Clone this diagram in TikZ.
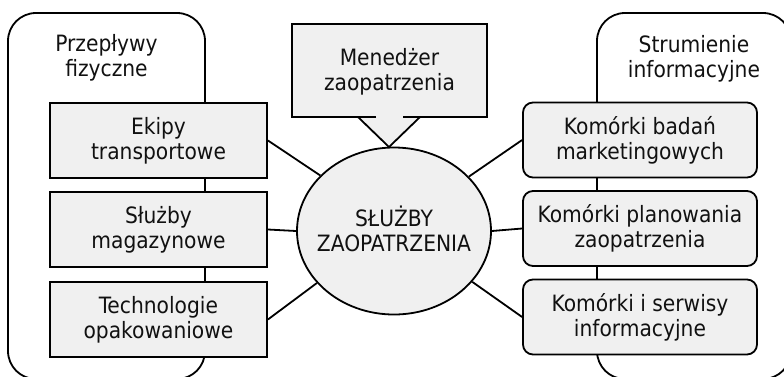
\documentclass[tikz,border=0pt]{standalone}
\usepackage{fontspec}
\setmainfont{DejaVu Sans Condensed}
\usetikzlibrary{shapes.geometric}
\definecolor{boxfill}{HTML}{F0F0F0}
\definecolor{txt}{HTML}{111111}
\tikzset{
  every node/.style={text=txt, font=\fontsize{22.5}{25}\selectfont, align=center},
  ln/.style={line width=1.8pt, draw=black},
  group/.style={ln, rounded corners=28pt},
  lbox/.style={ln, fill=boxfill, minimum width=217pt, minimum height=75pt, inner sep=0pt},
  rbox/.style={ln, fill=boxfill, rounded corners=10pt, minimum width=234pt, minimum height=75pt, inner sep=0pt},
  hub/.style={ln, fill=boxfill, ellipse, minimum width=194pt, minimum height=167pt, inner sep=0pt},
  conn/.style={ln},
}
\begin{document}
\begin{tikzpicture}[x=1pt,y=-1pt]
\useasboundingbox (0,0) rectangle (784,376);
\clip (0,0) rectangle (784,376);
% group frames
\draw[group] (8,13) rectangle (205,379);
\draw[group] (597,13) rectangle (791,379);
\node (przep) at (106.5,58) {Przepływy\\fizyczne};
\node (strum) at (694,59) {Strumienie\\informacyjne};
% manager callout
\fill[boxfill] (292,24) rectangle (487,117);
\filldraw[ln, fill=boxfill, line join=miter] (358,117) -- (389,147) -- (420,117);
\draw[ln] (376,117) -- (292,117) -- (292,24) -- (487,24) -- (487,117) -- (403,117);
\node (men) at (389.5,72) {Menedżer\\zaopatrzenia};
% hub
\node[hub] (hub) at (394,231) {};
\node (hubtxt) at (394,229) {SŁUŻBY\\ZAOPATRZENIA};
% left boxes
\node[lbox] (ekipy) at (158.5,140.5) {Ekipy\\transportowe};
\node[lbox] (mag) at (158.5,229.5) {Służby\\magazynowe};
\node[lbox] (tech) at (158.5,319.5) {Technologie\\opakowaniowe};
% right boxes
\node[rbox] (bad) at (640,140) {Komórki badań\\marketingowych};
\node[rbox] (plan) at (640,228.5) {Komórki planowania\\zaopatrzenia};
\node[rbox] (serw) at (640,317) {Komórki i serwisy\\informacyjne};
% connectors
\draw[conn] (ekipy.east) -- (hub.143);
\draw[conn] (mag.east) -- (hub.west);
\draw[conn] (tech.east) -- (hub.214);
\draw[conn] (hub.36) -- (bad.west);
\draw[conn] (hub.east) -- (plan.west);
\draw[conn] (hub.327) -- (serw.west);
\end{tikzpicture}
\end{document}
